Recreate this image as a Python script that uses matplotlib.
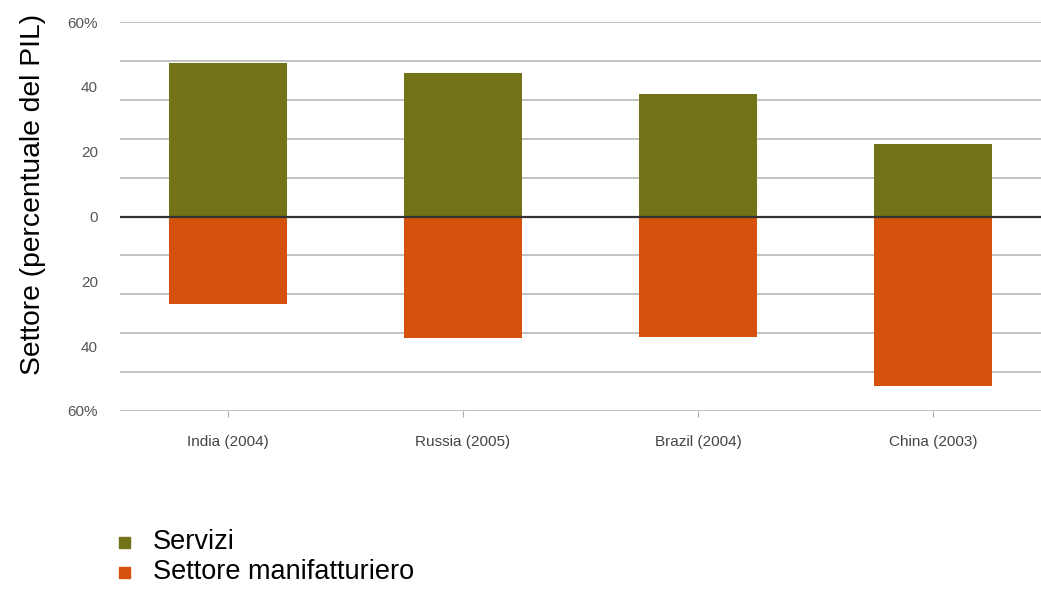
import matplotlib
matplotlib.use('Agg')
import matplotlib.pyplot as plt
import numpy as np

plt.rcParams['font.family'] = ['Liberation Sans', 'DejaVu Sans']

# dati (percentuale del PIL)
paesi = ['India (2004)', 'Russia (2005)', 'Brazil (2004)', 'China (2003)']
servizi = [47.2, 44.3, 37.9, 22.5]
manifatturiero = [27.1, 37.6, 37.3, 52.4]
tick_valori = [60, 40, 20, 0, -20, -40, -60]
tick_etichette = ['60%', '40', '20', '0', '20', '40', '60%']
griglia = [-60, -48, -36, -24, -12, 12, 24, 36, 48, 60]

col_servizi = '#717316'
col_manif = '#d4520c'

fig = plt.figure(figsize=(10.41, 5.92), dpi=100)
ax = fig.add_axes([120 / 1041, 1 - 411 / 592, 1 - 120 / 1041, (411 - 22) / 592])

x = np.arange(len(paesi))
# linee di griglia orizzontali
for g in griglia:
    ax.axhline(g, color='#b8b8b8', lw=1.2, zorder=0)
ax.axhline(0, color='#333333', lw=1.6, zorder=3)

ax.bar(x, servizi, width=0.5, color=col_servizi, zorder=2)
ax.bar(x, [-v for v in manifatturiero], width=0.5, color=col_manif, zorder=2)

ax.set_xlim(-0.46, 3.46)
ax.set_ylim(-60, 60)
ax.set_yticks(tick_valori)
ax.set_yticklabels(tick_etichette)
ax.set_xticks(x)
ax.set_xticklabels(paesi)
ax.tick_params(axis='y', length=0, pad=16, labelsize=11, labelcolor='#555555')
ax.tick_params(axis='x', length=4, width=0.8, color='#aaaaaa', pad=13,
               labelsize=11, labelcolor='#444444')
for s in ax.spines.values():
    s.set_visible(False)

fig.text(33 / 1041, 1 - 194 / 592, 'Settore (percentuale del PIL)', rotation=90,
         fontsize=20.3, ha='center', va='center', color='black')

# legenda manuale
legenda = [('Servizi', col_servizi, 542), ('Settore manifatturiero', col_manif, 572)]
for nome, col, ypx in legenda:
    fig.patches.append(plt.Rectangle((119 / 1041, 1 - (ypx + 6) / 592), 11 / 1041, 11 / 592,
                                     transform=fig.transFigure, color=col, figure=fig))
    fig.text(153 / 1041, 1 - ypx / 592, nome, fontsize=19.5, ha='left', va='center',
             color='black')

fig.savefig('out.png', dpi=100)
